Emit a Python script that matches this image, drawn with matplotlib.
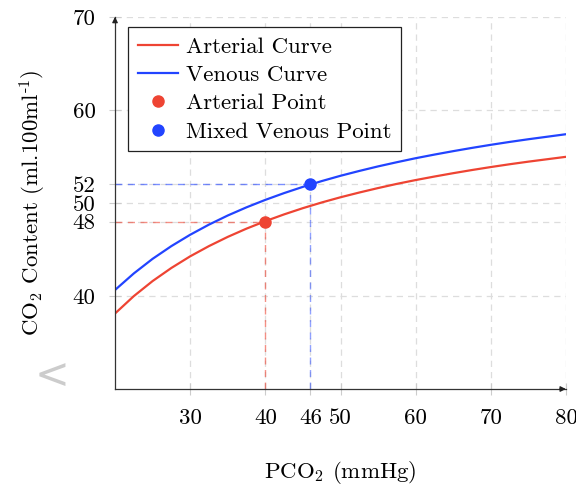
import matplotlib
matplotlib.use("Agg")
import matplotlib.pyplot as plt

plt.rcParams['font.family'] = ['cmr10']
plt.rcParams['mathtext.fontset'] = 'cm'
plt.rcParams['axes.formatter.use_mathtext'] = True

# Data
pco2 = [20, 22.5, 25, 27.5, 30, 32.5, 35, 37.5, 40, 42.5, 45, 47.5, 50,
        52.5, 55, 57.5, 60, 62.5, 65, 67.5, 70, 72.5, 75, 77.5, 80]
arterial = [38.12, 39.99, 41.61, 43.02, 44.27, 45.37, 46.36, 47.25, 48.05,
            48.78, 49.45, 50.06, 50.62, 51.13, 51.61, 52.06, 52.47, 52.85,
            53.21, 53.55, 53.87, 54.17, 54.45, 54.71, 54.97]
venous = [40.65, 42.43, 44.00, 45.37, 46.59, 47.68, 48.66, 49.54, 50.34,
          51.07, 51.74, 52.36, 52.93, 53.45, 53.94, 54.39, 54.82, 55.21,
          55.58, 55.93, 56.26, 56.57, 56.86, 57.13, 57.40]
art_point = (40, 48)
ven_point = (46, 52)
xticks = [30, 40, 46, 50, 60, 70, 80]
yticks = [40, 48, 50, 52, 60, 70]

RED = '#EE4433'
BLUE = '#2244FF'
FS = 16.5

fig = plt.figure(figsize=(5.76, 4.87), dpi=100)
ax = fig.add_axes([0.1997, 0.2012, 0.7829, 0.7638])
ax.set_xlim(20, 80)
ax.set_ylim(30, 70)

ax.grid(True, color='#dddddd', linestyle=(0, (5, 4)), linewidth=0.9)
ax.set_axisbelow(True)

dash = (0, (5, 4))
ax.plot([art_point[0], art_point[0]], [30, art_point[1]], color=RED, alpha=0.6,
        linestyle=dash, linewidth=1.0)
ax.plot([20, art_point[0]], [art_point[1], art_point[1]], color=RED, alpha=0.6,
        linestyle=dash, linewidth=1.0)
ax.plot([ven_point[0], ven_point[0]], [30, ven_point[1]], color=BLUE, alpha=0.5,
        linestyle=dash, linewidth=1.0)
ax.plot([20, ven_point[0]], [ven_point[1], ven_point[1]], color=BLUE, alpha=0.6,
        linestyle=dash, linewidth=1.0)

ax.plot(pco2, arterial, color=RED, linewidth=1.6, label='Arterial Curve')
ax.plot(pco2, venous, color=BLUE, linewidth=1.6, label='Venous Curve')
ax.plot([art_point[0]], [art_point[1]], 'o', color=RED, markersize=8,
        label='Arterial Point', zorder=5)
ax.plot([ven_point[0]], [ven_point[1]], 'o', color=BLUE, markersize=8,
        label='Mixed Venous Point', zorder=5)

ax.spines['top'].set_visible(False)
ax.spines['right'].set_visible(False)
for s in ('left', 'bottom'):
    ax.spines[s].set_color('#333333')
    ax.spines[s].set_linewidth(0.9)

ax.annotate('', xy=(1.006, 0), xycoords='axes fraction', xytext=(0.98, 0),
            arrowprops=dict(arrowstyle='-|>', color='#222222', lw=0.9, mutation_scale=8))
ax.annotate('', xy=(0, 1.008), xycoords='axes fraction', xytext=(0, 0.98),
            arrowprops=dict(arrowstyle='-|>', color='#222222', lw=0.9, mutation_scale=8))

ax.set_xticks(xticks)
ax.set_yticks(yticks)
ax.set_xticklabels([str(t) for t in xticks])
ax.set_yticklabels([str(t) for t in yticks])
ax.tick_params(axis='both', direction='inout', length=8, width=0.8, color='#cccccc',
               labelsize=FS, pad=10)

ax.set_xlabel(r'PCO$_2$ (mmHg)', fontsize=FS, labelpad=22)
ax.set_ylabel(r'CO$_2$ Content (ml.100ml$^{\text{-}1}$)', fontsize=FS, labelpad=18)

leg = ax.legend(loc='upper left', bbox_to_anchor=(0.0288, 0.973), fontsize=FS,
                frameon=True, fancybox=False, edgecolor='#222222', framealpha=1,
                handlelength=1.75, handletextpad=0.35, borderpad=0.42, labelspacing=0.36,
                borderaxespad=0.0)
leg.get_frame().set_linewidth(0.9)

fig.text(0.09, 0.228, '<', fontsize=30, color='#cccccc', ha='center', va='center',
         family='DejaVu Sans')

fig.savefig('out.png', dpi=100)
